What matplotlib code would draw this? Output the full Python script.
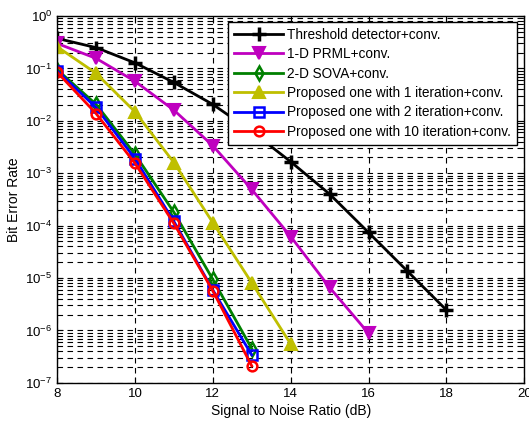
import matplotlib.pyplot as plt
import numpy as np
from matplotlib.ticker import LogLocator, NullFormatter

plt.rcParams['font.family'] = ['Liberation Sans', 'DejaVu Sans']
plt.rcParams['mathtext.fontset'] = 'custom'
plt.rcParams['mathtext.rm'] = 'Liberation Sans'

# SNR (dB) and BER values
snr_thr = [8, 9, 10, 11, 12, 13, 14, 15, 16, 17, 18]
ber_thr = [0.375, 0.25, 0.128, 0.054, 0.0206, 6.3e-3, 1.66e-3, 4.0e-4, 7.4e-5, 1.35e-5, 2.45e-6]

snr_prml = [8, 9, 10, 11, 12, 13, 14, 15, 16]
ber_prml = [0.30, 0.156, 0.057, 0.016, 3.35e-3, 4.9e-4, 6.2e-5, 6.6e-6, 8.8e-7]

snr_sova = [8, 9, 10, 11, 12, 13]
ber_sova = [0.095, 0.0207, 2.3e-3, 1.8e-4, 9.4e-6, 4.5e-7]

snr_p1 = [8, 9, 10, 11, 12, 13, 14]
ber_p1 = [0.26, 0.081, 0.0149, 1.6e-3, 1.14e-4, 8.1e-6, 5.5e-7]

snr_p2 = [8, 9, 10, 11, 12, 13]
ber_p2 = [0.09, 0.018, 1.9e-3, 1.2e-4, 5.9e-6, 3.4e-7]

snr_p10 = [8, 9, 10, 11, 12, 13]
ber_p10 = [0.085, 0.0138, 1.55e-3, 1.1e-4, 5.7e-6, 2.1e-7]

labels = ['Threshold detector+conv.', '1-D PRML+conv.', '2-D SOVA+conv.',
          'Proposed one with 1 iteration+conv.', 'Proposed one with 2 iteration+conv.',
          'Proposed one with 10 iteration+conv.']
colors = ['#000000', '#BF00BF', '#008000', '#BFBF00', '#0000FF', '#FF0000']
markers = ['+', 'v', 'd', '^', 's', 'o']


def main():
    fig = plt.figure(figsize=(5.29, 4.23), dpi=100)
    ax = fig.add_axes([0.108, 0.095, 0.883, 0.867])

    series = [(snr_thr, ber_thr), (snr_prml, ber_prml), (snr_sova, ber_sova),
              (snr_p1, ber_p1), (snr_p2, ber_p2), (snr_p10, ber_p10)]
    for i, (x, y) in enumerate(series):
        if markers[i] == '+':
            ax.plot(x, y, '-', c=colors[i], lw=2, marker='+', ms=10, mew=2.5, label=labels[i])
        elif markers[i] in ('v', '^'):
            ax.plot(x, y, '-', c=colors[i], lw=2, marker=markers[i], ms=8, mew=1.5,
                    mfc=colors[i], label=labels[i])
        else:
            ax.plot(x, y, '-', c=colors[i], lw=2, marker=markers[i], ms=7, mew=1.8,
                    mfc='none', label=labels[i])

    ax.set_yscale('log')
    ax.set_xlim(8, 20)
    ax.set_ylim(1e-7, 1)
    ax.set_xticks([8, 10, 12, 14, 16, 18, 20])
    ax.yaxis.set_major_locator(LogLocator(base=10, numticks=10))
    ax.yaxis.set_minor_locator(LogLocator(base=10, subs=np.arange(2, 10), numticks=100))
    ax.yaxis.set_minor_formatter(NullFormatter())

    ax.grid(True, which='major', ls=(0, (5, 4)), c='k', lw=0.8)
    ax.grid(True, which='minor', axis='y', ls=(0, (5, 4)), c='k', lw=0.8)
    ax.tick_params(which='both', direction='in', top=True, right=True, labelsize=9.5)
    ax.tick_params(which='major', length=4)
    ax.tick_params(which='minor', length=2)
    for s in ax.spines.values():
        s.set_linewidth(1)

    ax.set_xlabel('Signal to Noise Ratio (dB)', fontsize=10, labelpad=3)
    ax.set_ylabel('Bit Error Rate', fontsize=10)
    ax.yaxis.set_label_coords(-0.078, 0.5)

    leg = ax.legend(loc='upper right', bbox_to_anchor=(0.985, 0.985), fontsize=9.8,
                    fancybox=False, framealpha=1, edgecolor='k', handlelength=3.6,
                    borderaxespad=0, labelspacing=0.4, handletextpad=0.3, borderpad=0.45)
    leg.get_frame().set_linewidth(1)

    plt.savefig('out.png')


if __name__ == "__main__":
    main()
